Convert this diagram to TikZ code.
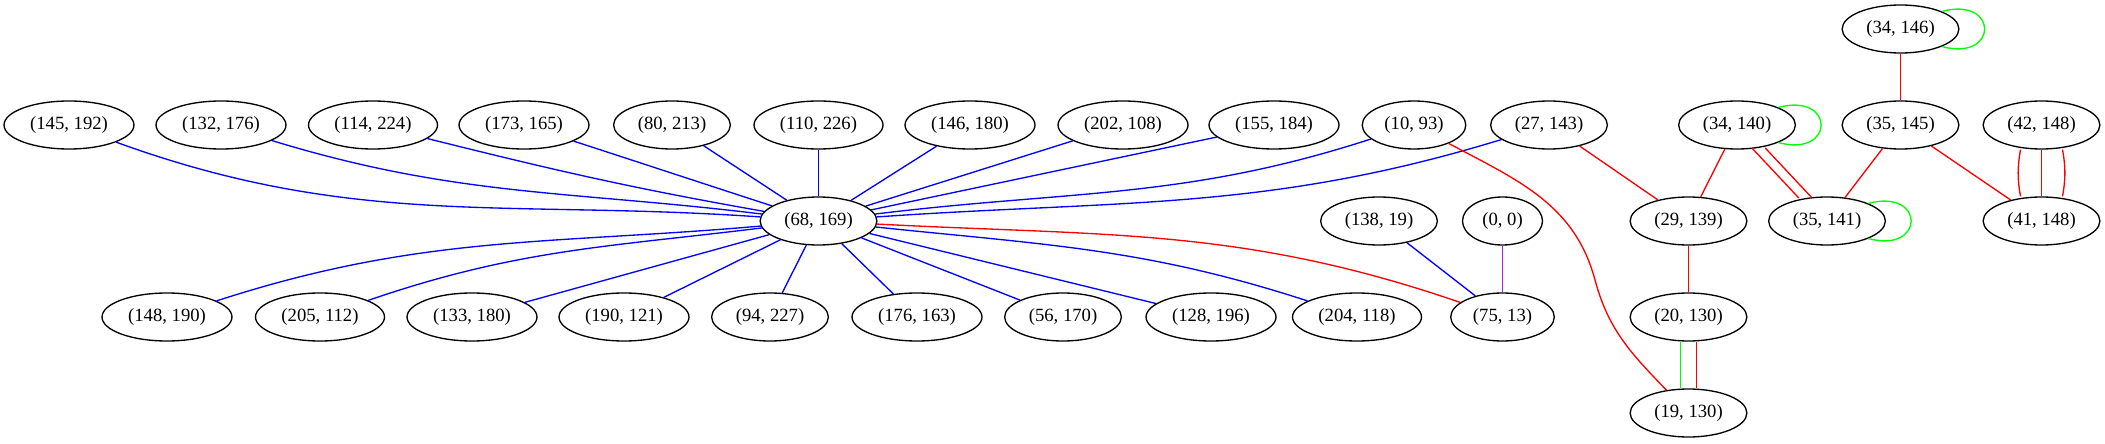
\documentclass[tikz,border=0pt]{standalone}
\usepackage{fontspec}
\setmainfont{Liberation Serif}
\usetikzlibrary{shapes.geometric}
\definecolor{gvpurple}{RGB}{160,32,240}
\definecolor{gvgreen}{RGB}{0,255,0}
\begin{document}
\begin{tikzpicture}[x=0.75pt,y=0.75pt,
  gnode/.style={draw=black, line width=1pt, ellipse, minimum height=36pt,
    inner xsep=5.3pt, inner ysep=1pt, font=\fontsize{14}{16}\selectfont},
  bl/.style={draw=blue, line width=1pt},
  rd/.style={draw=red, line width=1pt},
  gr/.style={draw=gvgreen, line width=1pt},
  pu/.style={draw=gvpurple, line width=1pt},
  selfloop/.style={out=15, in=-15, looseness=4.3}]
\useasboundingbox (0,0) rectangle (2105,443);
% top
\node[gnode] (n34_146) at (1900.5,414) {(34, 146)};
% row 2
\node[gnode] (n145_192) at (69,318) {(145, 192)};
\node[gnode] (n132_176) at (221,318) {(132, 176)};
\node[gnode] (n114_224) at (373,318) {(114, 224)};
\node[gnode] (n173_165) at (524,318) {(173, 165)};
\node[gnode] (n80_213) at (672,318) {(80, 213)};
\node[gnode] (n110_226) at (818.5,318) {(110, 226)};
\node[gnode] (n146_180) at (970,318) {(146, 180)};
\node[gnode] (n202_108) at (1123,318) {(202, 108)};
\node[gnode] (n155_184) at (1274,318) {(155, 184)};
\node[gnode] (n10_93) at (1414,318) {(10, 93)};
\node[gnode] (n27_143) at (1549,318) {(27, 143)};
\node[gnode] (n34_140) at (1737,318) {(34, 140)};
\node[gnode] (n35_145) at (1900.5,318) {(35, 145)};
\node[gnode] (n42_148) at (2041.5,318) {(42, 148)};
% row 3
\node[gnode] (n68_169) at (818.5,222) {(68, 169)};
\node[gnode] (n138_19) at (1379,222) {(138, 19)};
\node[gnode, minimum width=60pt] (n0_0) at (1502.5,222) {(0, 0)};
\node[gnode] (n29_139) at (1688.5,222) {(29, 139)};
\node[gnode] (n35_141) at (1827,222) {(35, 141)};
\node[gnode] (n41_148) at (2041.5,222) {(41, 148)};
% row 4
\node[gnode] (n148_190) at (167,126) {(148, 190)};
\node[gnode] (n205_112) at (320,126) {(205, 112)};
\node[gnode] (n133_180) at (472,126) {(133, 180)};
\node[gnode] (n190_121) at (624,126) {(190, 121)};
\node[gnode] (n94_227) at (770,126) {(94, 227)};
\node[gnode] (n176_163) at (917,126) {(176, 163)};
\node[gnode] (n56_170) at (1063,126) {(56, 170)};
\node[gnode] (n128_196) at (1211,126) {(128, 196)};
\node[gnode] (n204_118) at (1357,126) {(204, 118)};
\node[gnode] (n75_13) at (1502.5,126) {(75, 13)};
\node[gnode] (n20_130) at (1688.5,126) {(20, 130)};
% row 5
\node[gnode] (n19_130) at (1688.5,30) {(19, 130)};
\coordinate (w1) at (1595,163);

% fan into (68,169)
\draw[bl] (n145_192) to[out=-20, in=176] (n68_169);
\draw[bl] (n132_176) to[out=-17, in=173] (n68_169);
\draw[bl] (n114_224) to[out=-14, in=170] (n68_169);
\draw[bl] (n173_165) to[out=-18, in=162] (n68_169);
\draw[bl] (n80_213) -- (n68_169);
\draw[bl] (n110_226) -- (n68_169);
\draw[bl] (n146_180) -- (n68_169);
\draw[bl] (n202_108) -- (n68_169);
\draw[bl] (n155_184) -- (n68_169);
\draw[bl] (n10_93) to[out=198, in=7] (n68_169);
\draw[bl] (n27_143) to[out=197, in=4] (n68_169);
% fan out of (68,169)
\draw[bl] (n68_169) to[out=185, in=18] (n148_190);
\draw[bl] (n68_169) to[out=187, in=19] (n205_112);
\draw[bl] (n68_169) -- (n133_180);
\draw[bl] (n68_169) -- (n190_121);
\draw[bl] (n68_169) -- (n94_227);
\draw[bl] (n68_169) -- (n176_163);
\draw[bl] (n68_169) -- (n56_170);
\draw[bl] (n68_169) -- (n128_196);
\draw[bl] (n68_169) to[out=-6, in=162] (n204_118);
\draw[rd] (n68_169) to[out=-3, in=161] (n75_13);
\draw[bl] (n138_19) -- (n75_13);
\draw[pu] (n0_0) -- (n75_13);
% right cluster
\draw[rd] (n10_93) to[out=-28, in=105] (w1) to[out=-75, in=134] (n19_130);
\draw[rd] (n27_143) -- (n29_139);
\draw[rd] (n34_140) -- (n29_139);
\draw[rd, transform canvas={xshift=-5pt}] (n34_140) -- (n35_141);
\draw[rd, transform canvas={xshift=5pt}] (n34_140) -- (n35_141);
\draw[gr] (n34_140.23) to[selfloop] (n34_140.-23);
\draw[gr] (n34_146.23) to[selfloop] (n34_146.-23);
\draw[rd] (n34_146) -- (n35_145);
\draw[rd] (n35_145) -- (n35_141);
\draw[rd] (n35_145) -- (n41_148);
\draw[gr] (n35_141.23) to[selfloop] (n35_141.-23);
\draw[rd, transform canvas={xshift=-12.5pt}] (n42_148) to[bend right=10] (n41_148);
\draw[rd] (n42_148) -- (n41_148);
\draw[rd, transform canvas={xshift=12.5pt}] (n42_148) to[bend left=10] (n41_148);
\draw[rd] (n29_139) -- (n20_130);
\draw[gr, transform canvas={xshift=-6pt}] (n20_130) -- (n19_130);
\draw[rd, transform canvas={xshift=6pt}] (n20_130) -- (n19_130);
\end{tikzpicture}
\end{document}
